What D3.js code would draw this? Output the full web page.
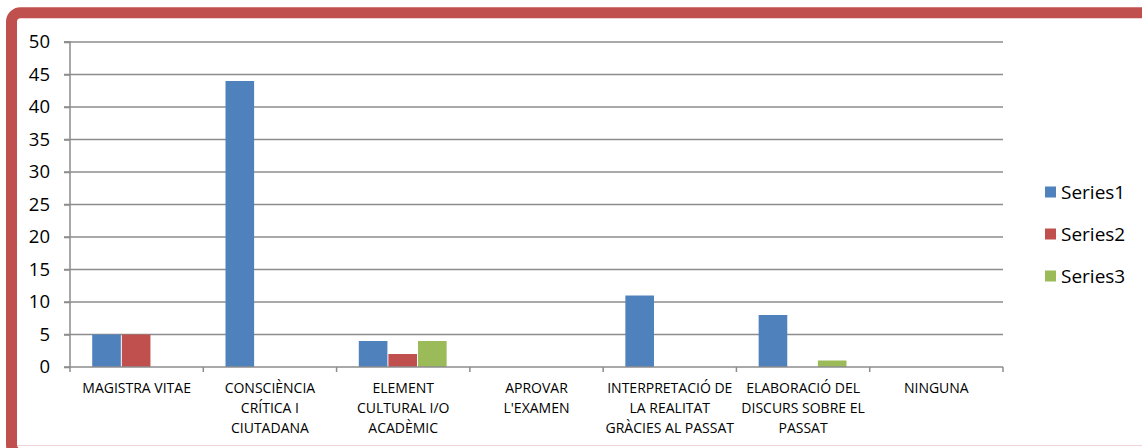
<!DOCTYPE html>
<html><head><meta charset="utf-8">
<script src="https://cdn.jsdelivr.net/npm/d3@7"></script>
<style>body{margin:0;background:#fff;}svg{display:block;}</style>
</head><body>
<svg id="chart" width="1142" height="448"></svg>
<script>
const categories = [
  ["MAGISTRA VITAE"],
  ["CONSCIÈNCIA", "CRÍTICA I", "CIUTADANA"],
  ["ELEMENT", "CULTURAL I/O", "ACADÈMIC"],
  ["APROVAR", "L'EXAMEN"],
  ["INTERPRETACIÓ DE", "LA REALITAT", "GRÀCIES AL PASSAT"],
  ["ELABORACIÓ DEL", "DISCURS SOBRE EL", "PASSAT"],
  ["NINGUNA"]
];
const seriesNames = ["Series1", "Series2", "Series3"];
const series1 = [5, 44, 4, 0, 11, 8, 0];
const series2 = [5, 0, 2, 0, 0, 0, 0];
const series3 = [0, 0, 4, 0, 0, 1, 0];
const yTicks = [0, 5, 10, 15, 20, 25, 30, 35, 40, 45, 50];
const colors = ["#4F81BD", "#C0504D", "#9BBB59"];

(function () {
const seriesValues = [series1, series2, series3];
const font = "'Open Sans', 'Liberation Sans', sans-serif";
const svg = d3.select("#chart");

// frame
svg.append("rect").attr("x", 11.5).attr("y", 12.8).attr("width", 1160).attr("height", 441)
  .attr("rx", 9).attr("fill", "none").attr("stroke", "#C0504D").attr("stroke-width", 11);
svg.append("line").attr("x1", 17).attr("x2", 1142).attr("y1", 445.5).attr("y2", 445.5)
  .attr("stroke", "#f0d4d3").attr("stroke-width", 1);

const pLeft = 70, pRight = 1003, pTop = 42, pBottom = 367;
const idx = categories.map((d, i) => i);
const x0 = d3.scaleBand().domain(idx).range([pLeft, pRight]).paddingInner(0).paddingOuter(0);
const bw = x0.bandwidth() / 4.5;
const x1 = d3.scaleBand().domain([0, 1, 2]).range([0.75 * bw, 3.75 * bw]);
const y = d3.scaleLinear().domain([0, 50]).range([pBottom, pTop]);

// gridlines
svg.append("g").selectAll("line").data(yTicks.filter(t => t > 0)).join("line")
  .attr("x1", pLeft - 6).attr("x2", pRight).attr("y1", d => y(d)).attr("y2", d => y(d))
  .attr("stroke", "#8c8c8c").attr("stroke-width", 1.5);

// y axis
const yAxis = svg.append("g").attr("transform", `translate(${pLeft},0)`)
  .call(d3.axisLeft(y).tickValues(yTicks).tickSize(6).tickPadding(14));
yAxis.select(".domain").attr("stroke", "#8c8c8c").attr("stroke-width", 1.5).attr("d", `M-6,${pTop}H0V${pBottom}`);
yAxis.selectAll(".tick line").attr("stroke", "#8c8c8c").attr("stroke-width", 1.5);
yAxis.selectAll(".tick text").attr("font-family", font).attr("font-size", 18.5).attr("fill", "#000");

// bars
seriesValues.forEach((vals, s) => {
  svg.append("g").selectAll("rect").data(vals).join("rect")
    .attr("x", (d, i) => x0(i) + x1(s))
    .attr("width", x1.bandwidth() - 1)
    .attr("y", d => y(d))
    .attr("height", d => y(0) - y(d))
    .attr("fill", colors[s]);
});

// x axis
const xAxis = svg.append("g").attr("transform", `translate(0,${pBottom})`);
xAxis.append("line").attr("x1", pLeft - 6).attr("x2", pRight).attr("y1", 0).attr("y2", 0)
  .attr("stroke", "#8c8c8c").attr("stroke-width", 1.5);
xAxis.selectAll("line.tk").data(d3.range(categories.length + 1)).join("line").attr("class", "tk")
  .attr("x1", i => pLeft + i * x0.bandwidth()).attr("x2", i => pLeft + i * x0.bandwidth())
  .attr("y1", 0).attr("y2", 5).attr("stroke", "#8c8c8c").attr("stroke-width", 1.5);
const labels = xAxis.selectAll("text").data(categories).join("text")
  .attr("x", (d, i) => x0(i) + x0.bandwidth() / 2)
  .attr("y", 26)
  .attr("text-anchor", "middle").attr("font-family", font).attr("font-size", 14).attr("fill", "#000");
labels.each(function(lines) {
  const t = d3.select(this);
  lines.forEach((l, k) => t.append("tspan").attr("x", t.attr("x")).attr("dy", k === 0 ? 0 : 20).text(l));
});

// legend
const lg = svg.append("g");
seriesNames.forEach((n, s) => {
  const cy = 192 + s * 42;
  lg.append("rect").attr("x", 1045).attr("y", cy - 5.5).attr("width", 11).attr("height", 11).attr("fill", colors[s]);
  lg.append("text").attr("x", 1061).attr("y", cy).attr("dy", "0.35em").attr("font-family", font)
    .attr("font-size", 19).attr("fill", "#000").text(n);
});
})();
</script>
</body></html>
